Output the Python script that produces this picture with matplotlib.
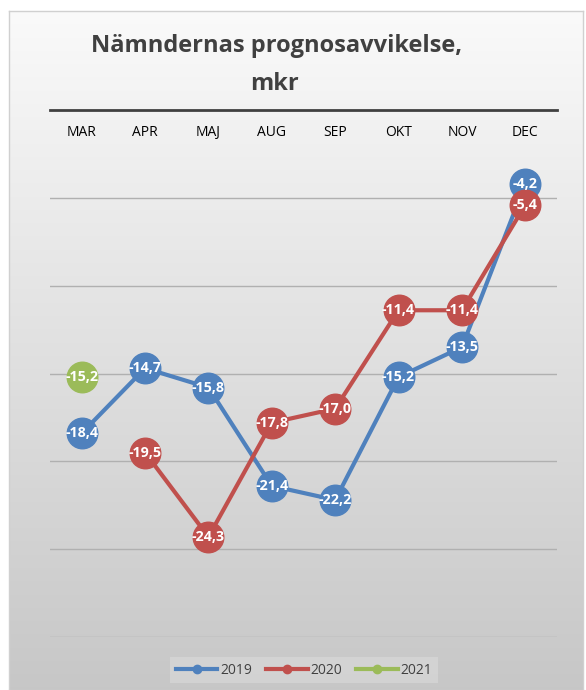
import numpy as np
import matplotlib
matplotlib.use("Agg")
import matplotlib.pyplot as plt
from matplotlib.lines import Line2D

months = ["MAR", "APR", "MAJ", "AUG", "SEP", "OKT", "NOV", "DEC"]
v2019 = [-18.4, -14.7, -15.8, -21.4, -22.2, -15.2, -13.5, -4.2]
v2020 = [np.nan, -19.5, -24.3, -17.8, -17.0, -11.4, -11.4, -5.4]
v2021 = [-15.2, np.nan, np.nan, np.nan, np.nan, np.nan, np.nan, np.nan]
series = [("2019", v2019, "#4F81BD"), ("2020", v2020, "#C0504D"), ("2021", v2021, "#9BBB59")]

plt.rcParams['font.family'] = ['Open Sans', 'DejaVu Sans']
W, H = 586, 690
fig = plt.figure(figsize=(W / 100, H / 100), dpi=100)
fig.patch.set_facecolor("white")

# background gradient panel
bx0, bx1, by0, by1 = 9, 583, 11, 690
bg = fig.add_axes([bx0 / W, 1 - by1 / H, (bx1 - bx0) / W, (by1 - by0) / H], zorder=-2)
grad = np.linspace(0, 1, 256).reshape(-1, 1)
top = np.array([0.98, 0.98, 0.98])
bot = np.array([0.78, 0.78, 0.78])
img = top + (bot - top) * grad[..., None] * np.ones((1, 2, 1))
bg.imshow(img, aspect="auto", extent=[0, 1, 0, 1], origin="upper")
bg.set_xlim(0, 1); bg.set_ylim(0, 1)
bg.set_xticks([]); bg.set_yticks([])
for s in bg.spines.values():
    s.set_color("#d0d0d0"); s.set_linewidth(1)

# main axes
ax0, ax1, ay0, ay1 = 50, 557, 110, 637
ax = fig.add_axes([ax0 / W, 1 - ay1 / H, (ax1 - ax0) / W, (ay1 - ay0) / H])
ax.patch.set_alpha(0)
x = np.arange(len(months))
ax.set_xlim(-0.5, len(months) - 0.5)
ax.set_ylim(-30, 0)
ax.set_yticks([-5, -10, -15, -20, -25, -30])
ax.yaxis.grid(True, color="#b0b0b0", linewidth=1)
ax.set_yticklabels([])
ax.tick_params(axis="y", length=0)
ax.set_xticks(x)
ax.set_xticklabels(months, fontsize=9.5, color="#404040")
ax.tick_params(axis="x", length=0, pad=11)
for k in ["left", "right", "top"]:
    ax.spines[k].set_visible(False)
ax.spines["bottom"].set_position(("data", 0))
ax.spines["bottom"].set_color("#404040")
ax.spines["bottom"].set_linewidth(2)
ax.set_axisbelow(True)

handles = []
for name, vals, col in series:
    ax.plot(x, vals, color=col, linewidth=3, marker="o", markersize=22,
            markerfacecolor=col, markeredgecolor=col, zorder=3, clip_on=False)
    for xi, v in zip(x, vals):
        if not np.isnan(v):
            ax.text(xi, v, f"{v:.1f}".replace(".", ","), ha="center", va="center",
                    color="white", fontsize=10.3, fontweight="bold", zorder=4)
    handles.append(Line2D([0], [0], color=col, linewidth=3, marker="o", markersize=6))

fig.text(277 / W, 1 - 46 / H, "Nämndernas prognosavvikelse,", ha="center", va="center",
         fontsize=17, fontweight="bold", color="#404040")
fig.text(274 / W, 1 - 84 / H, "mkr", ha="center", va="center",
         fontsize=17, fontweight="bold", color="#404040")

leg = fig.legend(handles, [s[0] for s in series], loc="center", ncol=3,
                 bbox_to_anchor=(304 / W, 1 - 670 / H), frameon=True, fontsize=10,
                 handlelength=3.0, columnspacing=1.0, handletextpad=0.2,
                 borderpad=0.4, fancybox=False)
leg.get_frame().set_facecolor("#d6d6d6")
leg.get_frame().set_edgecolor("none")
for t in leg.get_texts():
    t.set_color("#404040")

fig.savefig("out.png", dpi=100)
